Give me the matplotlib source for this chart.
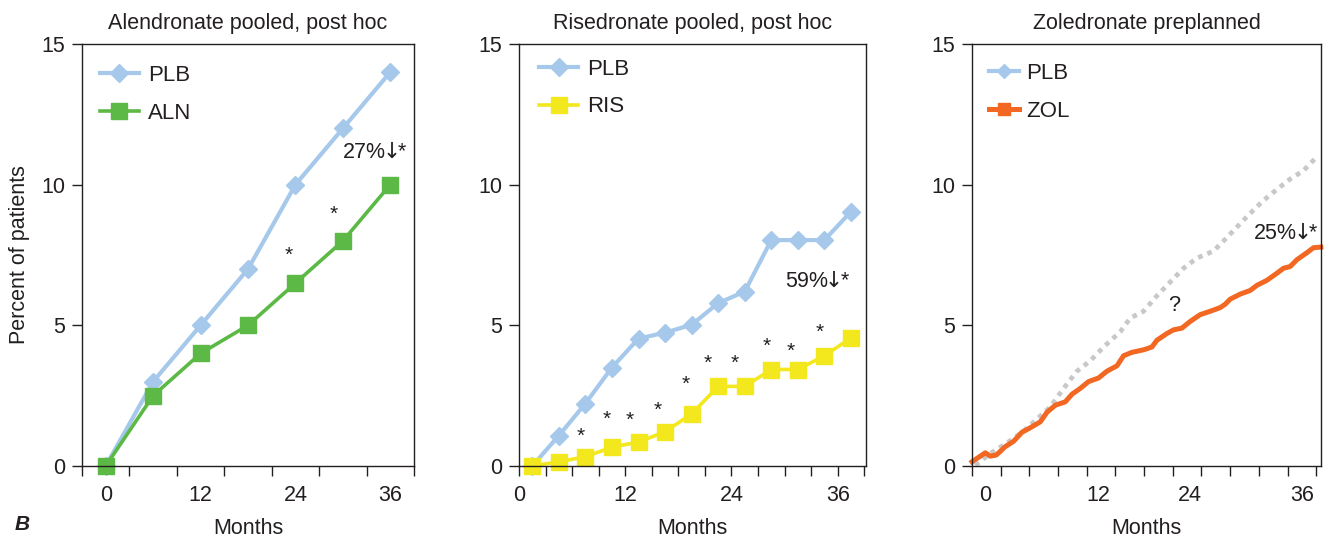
import matplotlib
matplotlib.use('Agg')
import matplotlib.pyplot as plt
from matplotlib.lines import Line2D

plt.rcParams['font.family'] = ['Liberation Sans', 'DejaVu Sans']

ink = '#231f20'
c_plb = '#a6c9eb'
c_aln = '#5cb946'
c_ris = '#f3e81d'
c_zol = '#f26722'
c_grey = '#c8c8c8'

# panel 1: alendronate
aln_months = [0, 6, 12, 18, 24, 30, 36]
aln_plb = [0, 3, 5, 7, 10, 12, 14]
aln_trt = [0, 2.5, 4, 5, 6.5, 8, 10]
aln_stars_x = [23.2, 28.8]
aln_stars_y = [7.5, 8.95]

# panel 2: risedronate
ris_months = [1.5, 4.5, 7.5, 10.5, 13.5, 16.5, 19.5, 22.5, 25.5, 28.5, 31.5, 34.5, 37.5]
ris_plb = [0, 1.08, 2.22, 3.5, 4.53, 4.74, 5.02, 5.79, 6.2, 8.03, 8.03, 8.03, 9.04]
ris_trt = [0, 0.15, 0.33, 0.67, 0.85, 1.22, 1.85, 2.83, 2.83, 3.43, 3.43, 3.92, 4.55]
ris_stars_x = [7.0, 9.9, 12.5, 15.7, 18.8, 21.3, 24.4, 28.0, 30.7, 34.0]
ris_stars_y = [1.06, 1.67, 1.64, 1.97, 2.91, 3.64, 3.64, 4.25, 4.08, 4.74]

zol_px = [245, 285, 300, 318, 345, 370, 395, 420, 450, 470, 495, 525, 545, 570, 595,
          625, 650, 680, 700, 725, 760, 785, 800, 830, 850, 875, 900, 930, 960, 990,
          1005, 1020, 1050, 1080, 1100, 1130, 1160, 1180, 1200, 1220, 1250, 1270, 1292]
zol_months = [(p - 245) / 28.7 for p in zol_px]
zol_trt = [0.15, 0.47, 0.35, 0.39, 0.69, 0.88, 1.2, 1.36, 1.57, 1.91, 2.16, 2.28, 2.55,
           2.76, 3.0, 3.13, 3.37, 3.56, 3.92, 4.04, 4.13, 4.23, 4.47, 4.71, 4.84, 4.9,
           5.14, 5.38, 5.5, 5.63, 5.75, 5.93, 6.11, 6.24, 6.42, 6.6, 6.85, 7.03, 7.09,
           7.33, 7.58, 7.76, 7.78]
zplb_px = [255, 300, 350, 400, 440, 480, 520, 560, 600, 640, 690, 720, 760, 800, 840,
           880, 920, 970, 1000, 1040, 1080, 1120, 1160, 1200, 1240, 1280]
zplb_months = [(p - 245) / 28.7 for p in zplb_px]
zol_plb = [0.02, 0.45, 0.82, 1.24, 1.67, 2.1, 2.76, 3.37, 3.74, 4.23, 4.77, 5.26, 5.5,
           6.05, 6.54, 7.03, 7.39, 7.64, 8.0, 8.49, 8.98, 9.44, 9.83, 10.2, 10.5, 10.99]

month_labels = ['0', '12', '24', '36']

fs = 15.5
arrow = r'$\!\!\downarrow\!\!$'

fig = plt.figure(figsize=(13.38, 5.41), dpi=100)
bottom, height = 1 - 466 / 541, 422 / 541
ax1 = fig.add_axes([82 / 1338, bottom, 332 / 1338, height])
ax2 = fig.add_axes([519 / 1338, bottom, 347 / 1338, height])
ax3 = fig.add_axes([972 / 1338, bottom, 349 / 1338, height])


def style(ax, title, xlim, major, label_pos):
    ax.set_xlim(*xlim)
    ax.set_ylim(0, 15)
    ax.set_yticks([0, 5, 10, 15])
    ax.xaxis.remove_overlapping_locs = False
    ax.set_xticks(major)
    ax.set_xticklabels([])
    ax.set_xticks(label_pos, minor=True)
    ax.set_xticklabels(month_labels, minor=True)
    ax.tick_params(axis='x', which='minor', length=0, pad=14, labelsize=fs, labelcolor=ink)
    ax.tick_params(which='major', direction='out', length=7, width=1, color=ink,
                   labelsize=fs, labelcolor=ink, pad=5)
    for s in ax.spines.values():
        s.set_color(ink)
        s.set_linewidth(1)
    ax.set_title(title, fontsize=fs, color=ink, pad=11)
    ax.set_xlabel('Months', fontsize=fs, color=ink, labelpad=8)


style(ax1, 'Alendronate pooled, post hoc', (-3, 39), list(range(-3, 40, 6)), [0, 12, 24, 36])
style(ax2, 'Risedronate pooled, post hoc', (0, 39.2), list(range(0, 40, 3)), [0, 12, 24, 36])
style(ax3, 'Zoledronate preplanned', (0, 36.5), list(range(0, 37, 3)), [1.4, 13.25, 22.75, 34.5])
ax1.set_ylabel('Percent of patients', fontsize=fs, color=ink, labelpad=8)

leg_kw = dict(loc='upper left', frameon=False, fontsize=16, borderaxespad=0, borderpad=0,
              handlelength=1.75, handletextpad=0.4, labelspacing=0.75, labelcolor=ink)

# panel 1
ax1.plot(aln_months, aln_plb, color=c_plb, lw=3, marker='D', ms=9, label='PLB', clip_on=False)
ax1.plot(aln_months, aln_trt, color=c_aln, lw=2.6, marker='s', ms=11, label='ALN', clip_on=False)
for x, y in zip(aln_stars_x, aln_stars_y):
    ax1.text(x, y, '*', ha='center', va='center', fontsize=15, color=ink)
ax1.text(29.9, 11.15, '27%' + arrow + '*', ha='left', va='center', fontsize=fs, color=ink)
ax1.legend(bbox_to_anchor=(0.054, 0.95), **leg_kw)

# panel 2
ax2.plot(ris_months, ris_plb, color=c_plb, lw=3, marker='D', ms=9, label='PLB', clip_on=False)
ax2.plot(ris_months, ris_trt, color=c_ris, lw=2.6, marker='s', ms=11, label='RIS', clip_on=False)
for x, y in zip(ris_stars_x, ris_stars_y):
    ax2.text(x, y, '*', ha='center', va='center', fontsize=15, color=ink)
ax2.text(30.0, 6.56, '59%' + arrow + '*', ha='left', va='center', fontsize=fs, color=ink)
ax2.legend(bbox_to_anchor=(0.058, 0.965), **leg_kw)

# panel 3
ax3.plot(zplb_months, zol_plb, color=c_grey, lw=3.4, ls=(0, (1.0, 1.1)), clip_on=False)
ax3.plot(zol_months, zol_trt, color=c_zol, lw=3.6, clip_on=False, solid_joinstyle='round')
ax3.text(21.1, 5.69, '?', ha='center', va='center', fontsize=fs, color=ink)
ax3.text(29.4, 8.25, '25%' + arrow + '*', ha='left', va='center', fontsize=fs, color=ink)
handles = [Line2D([], [], color=c_plb, lw=3, marker='D', ms=7),
           Line2D([], [], color=c_zol, lw=3.6, marker='s', ms=8)]
kw3 = dict(leg_kw)
kw3['handlelength'] = 1.35
kw3['handletextpad'] = 0.3
ax3.legend(handles, ['PLB', 'ZOL'], bbox_to_anchor=(0.05, 0.955), **kw3)

fig.text(15 / 1338, 1 - 525 / 541, 'B', fontsize=15, fontweight='bold', fontstyle='italic',
         color=ink, va='center', ha='left')

fig.savefig('out.png', dpi=100)
